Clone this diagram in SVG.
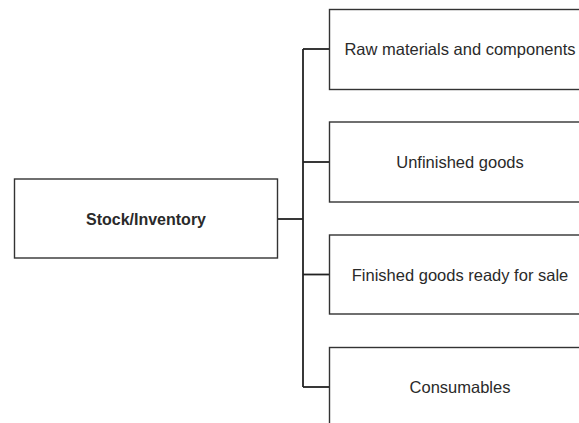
<svg xmlns="http://www.w3.org/2000/svg" width="579" height="423" viewBox="0 0 579 423">
  <style>
    .box { fill: #ffffff; stroke: #333333; stroke-width: 1.4; }
    .wire { fill: none; stroke: #222222; stroke-width: 1.8; }
    .lbl { font-family: "Liberation Sans", Arial, sans-serif; font-size: 16.5px; fill: #2a2a2a; text-anchor: middle; }
    .bold { font-weight: bold; font-size: 16px; }
  </style>
  <rect width="579" height="423" fill="#ffffff"/>

  <!-- connectors: trunk, spine and four branches -->
  <g id="connectors">
    <path class="wire" d="M277 219 H303" stroke-width="2.4"/>
    <path class="wire" d="M303 49 V387"/>
    <path class="wire" d="M303 49 H329"/>
    <path class="wire" d="M303 162 H329"/>
    <path class="wire" d="M303 274.5 H329"/>
    <path class="wire" d="M303 387 H329"/>
  </g>

  <g id="stock-inventory">
    <rect class="box" x="14.5" y="179" width="263" height="79"/>
    <text class="lbl bold" x="146" y="225">Stock/Inventory</text>
  </g>

  <g id="raw-materials">
    <rect class="box" x="329.5" y="9.5" width="300" height="80"/>
    <text class="lbl" x="460" y="55">Raw materials and components</text>
  </g>

  <g id="unfinished-goods">
    <rect class="box" x="329.5" y="122" width="300" height="80"/>
    <text class="lbl" x="460" y="168">Unfinished goods</text>
  </g>

  <g id="finished-goods">
    <rect class="box" x="329.5" y="235" width="300" height="79"/>
    <text class="lbl" x="460" y="280.5">Finished goods ready for sale</text>
  </g>

  <g id="consumables">
    <rect class="box" x="329.5" y="347.5" width="300" height="90"/>
    <text class="lbl" x="460" y="393">Consumables</text>
  </g>
</svg>
